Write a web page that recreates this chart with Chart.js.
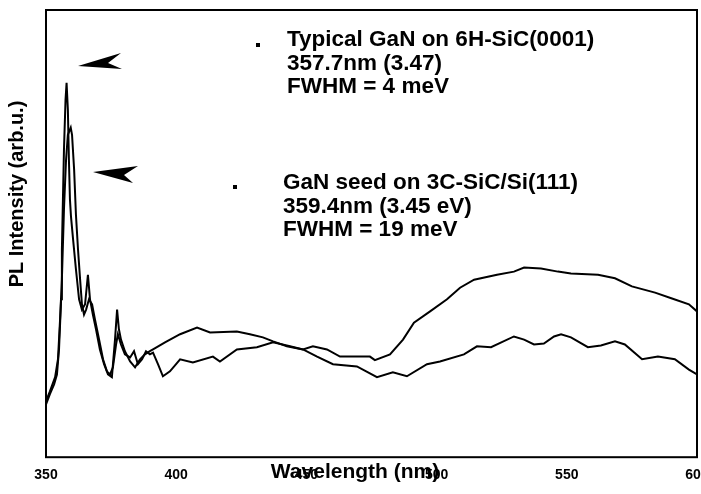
<!DOCTYPE html>
<html>
<head>
<meta charset="utf-8">
<script src="https://cdn.jsdelivr.net/npm/chart.js@4/dist/chart.umd.min.js"></script>
<style>
html,body{margin:0;padding:0;background:#fff;}
#wrap{width:701px;height:494px;}
</style>
</head>
<body>
<div id="wrap"><canvas id="c" width="701" height="494"></canvas></div>
<script>
// Wavelength (nm) and PL intensity (arb. u.)
const wlTypical = [350.0,351.5,353.1,354.2,355.0,355.8,356.1,356.5,356.9,357.5,357.9,358.4,358.8,359.2,359.6,360.4,361.5,362.7,363.8,365.0,366.1,366.9,368.0,369.2,370.7,372.3,373.8,375.3,376.5,377.3,378.0,378.8,380.3,382.3,384.2,386.1,388.0,389.9,391.1,395.7,401.5,408.0,413.0,423.3,428.3,433.3,437.2,442.5,448.7,454.1,460.2,469.4,477.1,483.2,488.6,496.3,501.3,510.5,515.5,520.9,529.7,533.6,537.4,541.2,545.1,547.8,551.6,558.1,563.1,568.5,572.3,578.9,585.0,591.5,596.9,600.0];
const plTypical = [11.8,14.1,16.3,18.5,24.1,35.3,46.4,57.6,68.8,79.9,83.7,77.7,66.5,57.6,53.8,48.7,42.0,35.3,33.0,34.2,40.8,35.3,31.9,28.6,24.1,20.8,18.5,17.9,26.3,33.0,28.6,26.3,23.7,21.4,20.1,21.9,23.0,23.7,24.1,25.7,27.5,29.0,27.9,28.1,27.5,26.8,25.9,24.8,24.1,22.5,20.8,20.3,17.9,19.0,18.1,20.8,21.4,23.0,24.8,24.6,27.0,26.3,25.2,25.4,27.0,27.5,26.8,24.6,25.0,25.9,25.2,21.9,22.5,21.9,19.6,18.5];

const wlSeed = [350.0,351.5,353.5,354.6,355.4,356.1,356.9,357.7,358.4,359.5,360.0,360.8,361.5,362.3,363.1,363.8,364.6,365.4,366.5,367.7,368.8,370.4,371.9,373.4,374.6,375.7,376.9,377.6,378.8,380.3,382.3,383.8,385.3,386.9,388.4,389.9,391.1,393.0,394.9,397.6,401.5,406.4,414.1,416.8,423.3,431.0,437.2,443.7,448.7,452.5,457.9,462.9,474.4,476.3,482.1,487.1,491.3,497.5,504.0,509.0,514.4,523.2,529.7,533.6,540.1,546.6,551.6,562.0,568.5,575.0,583.9,590.4,596.9,600.0];
const plSeed = [12.5,14.7,17.9,21.9,30.8,39.7,55.4,66.5,72.1,73.7,72.1,64.3,54.2,46.4,39.7,34.2,31.9,33.0,35.3,34.2,30.8,26.3,21.9,19.2,18.5,20.1,25.2,27.5,25.2,23.0,22.3,23.7,20.8,21.9,23.7,23.0,23.4,20.8,18.1,19.2,21.9,21.2,22.5,21.4,24.1,24.6,25.7,24.8,24.1,24.8,24.1,22.5,22.5,21.7,23.0,26.3,30.1,32.6,35.3,37.9,39.7,40.8,41.5,42.4,42.2,41.5,41.1,40.8,40.0,38.2,36.8,35.5,34.2,32.6];

const xTicks = [350,400,450,500,550,600];
const annotations = [
  {x: 0, lines: ["Typical GaN on 6H-SiC(0001)", "357.7nm (3.47)", "FWHM = 4 meV"]},
  {x: 1, lines: ["GaN seed on 3C-SiC/Si(111)", "359.4nm (3.45 eV)", "FWHM = 19 meV"]}
];
const xTitle = "Wavelength (nm)";
const yTitle = "PL Intensity (arb.u.)";

function pts(xs, ys){ return xs.map((x,i)=>({x:x, y:ys[i]})); }

const decor = {
  id: 'decor',
  afterDraw(chart){
    const ctx = chart.ctx, a = chart.chartArea;
    ctx.save();
    // frame
    ctx.strokeStyle = '#000'; ctx.lineWidth = 2;
    ctx.strokeRect(a.left, a.top, a.right - a.left, a.bottom - a.top);
    // axis titles
    ctx.fillStyle = '#000';
    ctx.font = 'bold 21px "Liberation Sans", Arial, sans-serif';
    ctx.textAlign = 'center'; ctx.textBaseline = 'middle';
    ctx.fillText(xTitle, 355, 472);
    ctx.save();
    ctx.translate(17, 194); ctx.rotate(-Math.PI/2);
    ctx.font = 'bold 20px "Liberation Sans", Arial, sans-serif';
    ctx.fillText(yTitle, 0, 0);
    ctx.restore();
    // annotation text
    ctx.textAlign = 'left'; ctx.textBaseline = 'middle';
    ctx.font = 'bold 22.5px "Liberation Sans", Arial, sans-serif';
    const blocks = [{x:287, y:40, dot:[258,45]}, {x:283, y:183, dot:[235,187]}];
    annotations.forEach((an,i)=>{
      const b = blocks[i];
      an.lines.forEach((t,j)=>ctx.fillText(t, b.x, b.y + j*23.5));
      ctx.fillRect(b.dot[0]-2, b.dot[1]-2, 4, 4);
    });
    // arrowheads
    ctx.beginPath();
    ctx.moveTo(78,66); ctx.lineTo(121,53); ctx.lineTo(108,63); ctx.lineTo(122,69); ctx.closePath(); ctx.fill();
    ctx.beginPath();
    ctx.moveTo(93,172); ctx.lineTo(138,166); ctx.lineTo(124,175); ctx.lineTo(133,183); ctx.closePath(); ctx.fill();
    ctx.restore();
  }
};

new Chart(document.getElementById('c'), {
  type: 'line',
  data: {
    datasets: [
      {label: annotations[0].lines[0], data: pts(wlTypical, plTypical), borderColor:'#000', borderWidth:2, pointRadius:0, tension:0, fill:false},
      {label: annotations[1].lines[0], data: pts(wlSeed, plSeed), borderColor:'#000', borderWidth:2, pointRadius:0, tension:0, fill:false}
    ]
  },
  options: {
    responsive: false,
    animation: false,
    devicePixelRatio: 1,
    layout: {autoPadding: false, padding: {left: 46, right: 4, top: 10, bottom: 0}},
    plugins: {legend: {display: false}, tooltip: {enabled: false}},
    scales: {
      x: {
        type: 'linear', min: 350, max: 600,
        afterBuildTicks: (s) => { s.ticks = xTicks.map(v => ({value: v})); },
        afterFit: (s) => { s.paddingLeft = 0; s.paddingRight = 0; s.paddingTop = 0; s.paddingBottom = 0; },
        grid: {display: false, drawTicks: false},
        border: {display: false},
        ticks: {color:'#000', padding: 10, maxRotation: 0, font: {family: '"Liberation Sans Narrow", "Liberation Sans", Arial', weight: 'bold', size: 14}}
      },
      y: {
        min: 0, max: 100,
        afterFit: (s) => { s.paddingLeft = 0; s.paddingRight = 0; s.paddingTop = 0; s.paddingBottom = 0; },
        grid: {display: false, drawTicks: false},
        border: {display: false},
        ticks: {display: false}
      }
    }
  },
  plugins: [decor]
});
</script>
</body>
</html>
